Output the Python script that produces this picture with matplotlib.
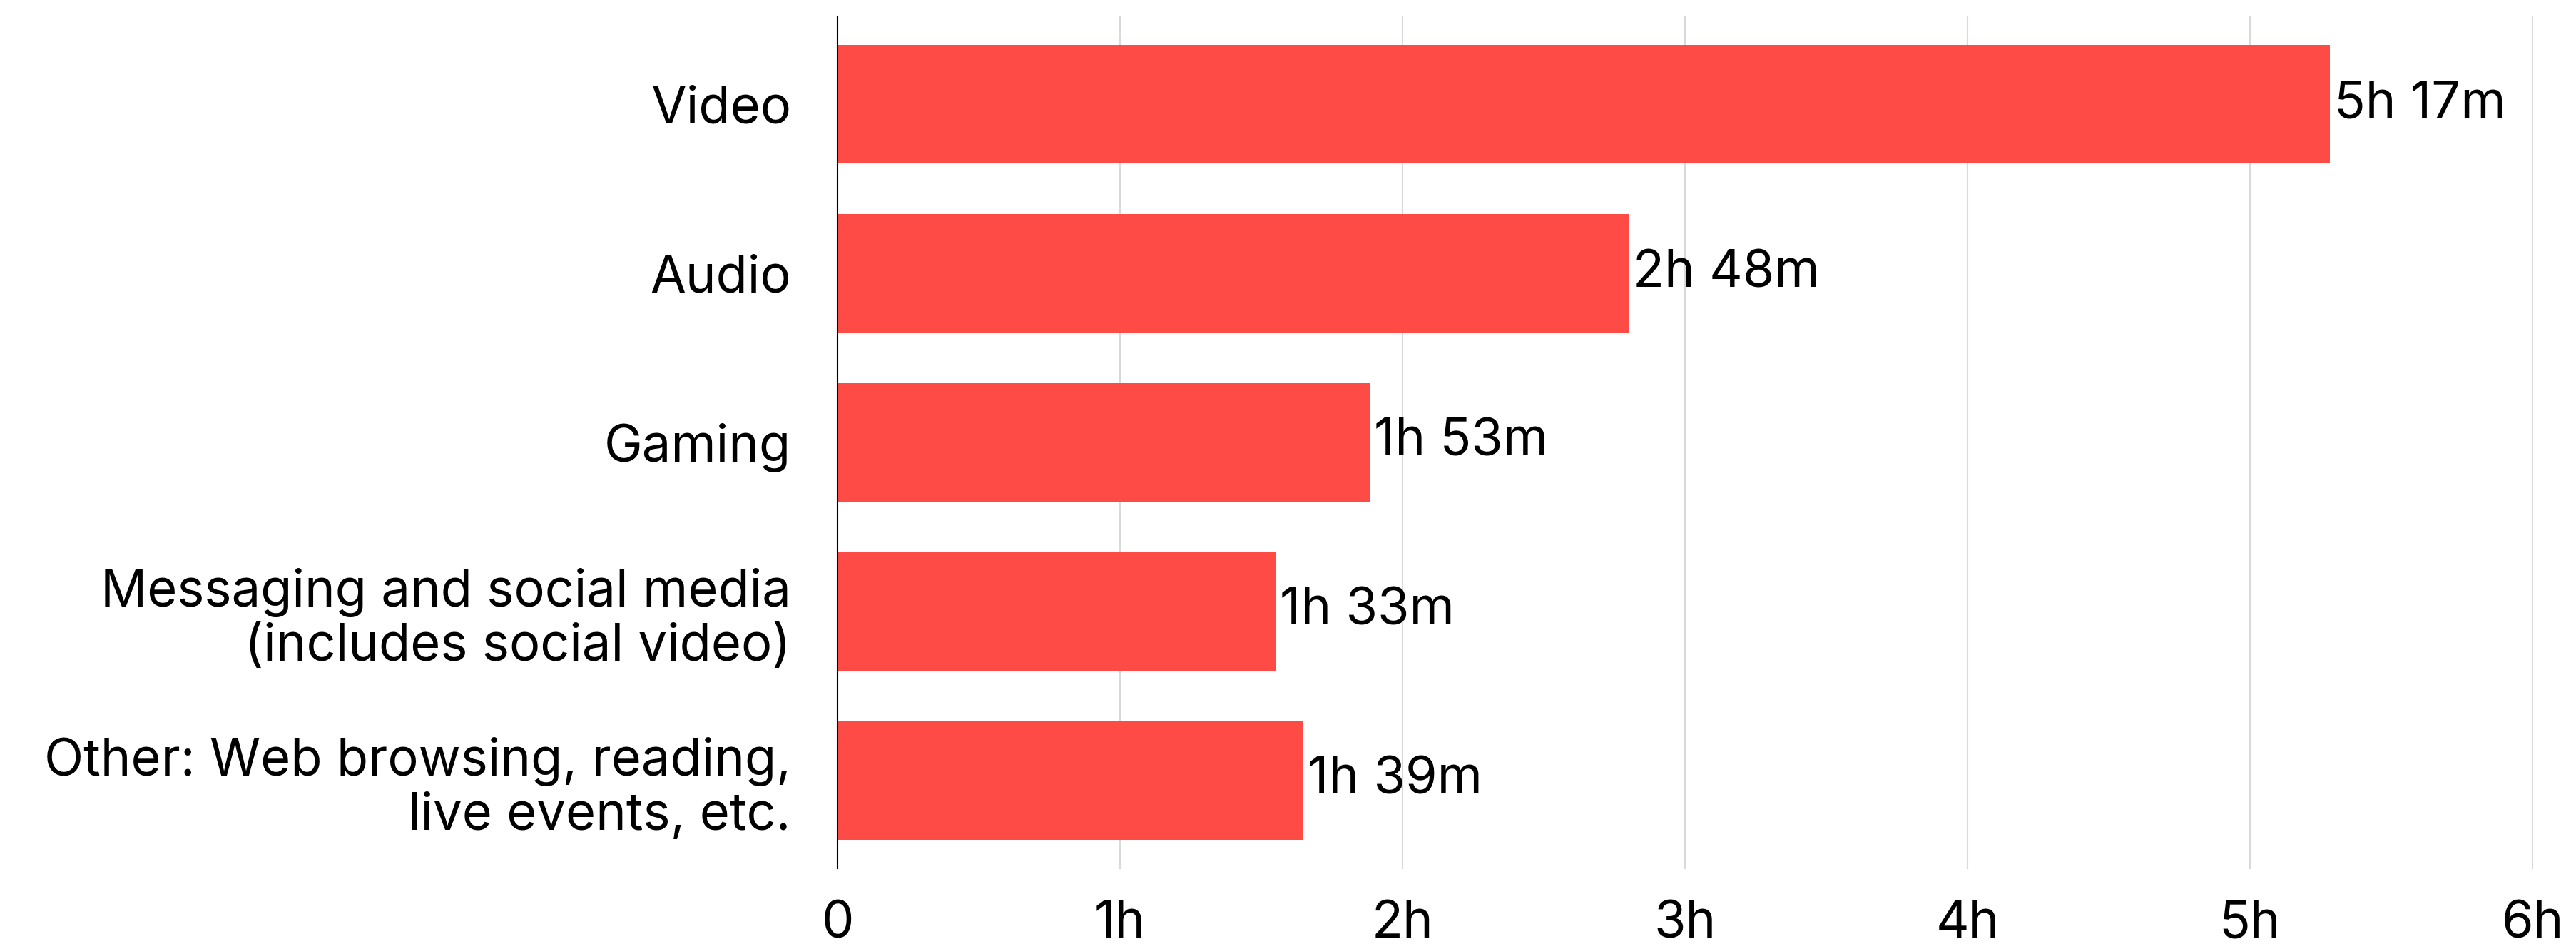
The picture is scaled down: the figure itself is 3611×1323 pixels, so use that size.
import matplotlib
matplotlib.use("Agg")
import matplotlib.pyplot as plt

# time spent per day, in hours
categories = ["Video", "Audio", "Gaming",
              "Messaging and social media\n(includes social video)",
              "Other: Web browsing, reading,\nlive events, etc."]
hours = [5 + 17/60, 2 + 48/60, 1 + 53/60, 1 + 33/60, 1 + 39/60]
value_labels = ["5h 17m", "2h 48m", "1h 53m", "1h 33m", "1h 39m"]
ticks = [0, 1, 2, 3, 4, 5, 6]
tick_labels = ["0", "1h", "2h", "3h", "4h", "5h", "6h"]

plt.rcParams['font.family'] = ['Inter', 'DejaVu Sans']
fs = 52

fig = plt.figure(figsize=(36.11, 13.23), dpi=100)
W, H = 3611, 1323
ax = fig.add_axes([1174/W, 1 - 1217/H, (3550-1174)/W, (1217-23)/H])

ypos = list(range(len(categories)))
ax.barh(ypos, hours, height=0.70, color="#ff4b46", zorder=2)
for y, v, lab in zip(ypos, hours, value_labels):
    ax.text(v + 0.015, y, lab, va="center", ha="left", fontsize=fs, color="black")

ax.set_xlim(0, 6)
ax.set_ylim(4.52, -0.52)
ax.set_yticks(ypos)
ax.set_yticklabels(categories, fontsize=fs, ha="right", linespacing=1.15)
ax.set_xticks(ticks)
ax.set_xticklabels(tick_labels, fontsize=fs)
for t in ax.get_xticklabels():
    t.set_verticalalignment("baseline")
ax.tick_params(axis="y", length=0, pad=47)
ax.tick_params(axis="x", length=0, pad=70)

for t in ticks[1:]:
    ax.axvline(t, color="#d9d9d9", lw=1.5, zorder=1, clip_on=False)

for s in ["top", "right", "bottom"]:
    ax.spines[s].set_visible(False)
ax.spines["left"].set_linewidth(1.5)
ax.spines["left"].set_zorder(3)

fig.savefig("out.png", dpi=100)
